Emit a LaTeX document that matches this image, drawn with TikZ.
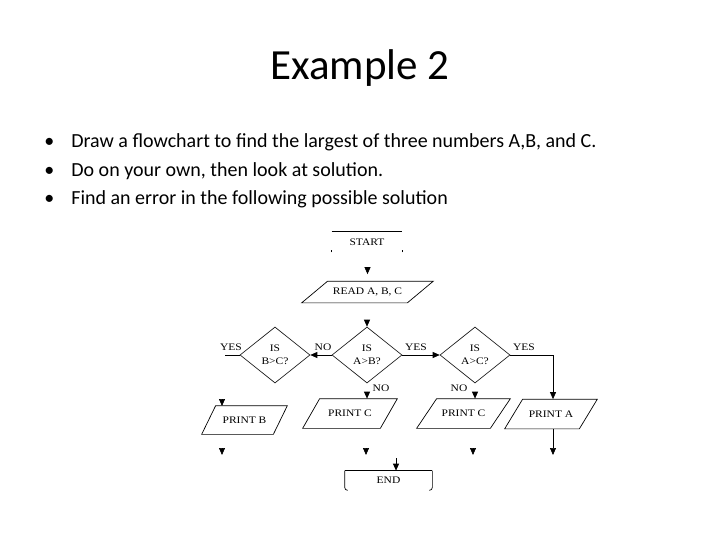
\documentclass[tikz,border=0pt]{standalone}
\usepackage{fontspec}
\setmainfont{Carlito}
\newfontfamily\chartfont[FakeStretch=1.15]{Liberation Serif}
\usetikzlibrary{arrows.meta,shapes.geometric,calc}

\begin{document}
\begin{tikzpicture}[
  x=1pt, y=-1pt,
  >={Triangle[width=6pt,length=7pt]},
  line width=0.7pt,
  every node/.style={inner sep=0pt},
  chart/.style={font=\chartfont\fontsize{10}{12.5}\selectfont, align=center},
  term/.style={chart, minimum width=70pt, minimum height=20pt},
  io/.style={chart, minimum width=73pt, minimum height=29pt},
  test/.style={chart, draw, diamond, minimum width=70pt, minimum height=56pt, line width=0.6pt},
  lbl/.style={chart},
  bulletline/.style={font=\fontsize{20}{24}\selectfont, anchor=base west}
]
\useasboundingbox (0,0) rectangle (720,540);

% Titre et consignes
\node[font=\fontsize{43}{50}\selectfont, anchor=base] (title) at (360,80) {Example 2};
\node[bulletline] (b1) at (44,148) {\textbullet};
\node[bulletline] (t1) at (71,148) {Draw a flowchart to find the largest of three numbers A,B, and C.};
\node[bulletline] (b2) at (44,176.5) {\textbullet};
\node[bulletline] (t2) at (71,176.5) {Do on your own, then look at solution.};
\node[bulletline] (b3) at (44,205) {\textbullet};
\node[bulletline] (t3) at (71,205) {Find an error in the following possible solution};

% Nodes (organigramme)
\node[term] (start) at (367,242) {START};
\node[io, minimum width=105pt, minimum height=21pt] (read) at (367.5,292) {READ A, B, C};
\node[test] (isbc) at (275,355) {IS\\B>C?};
\node[test] (isab) at (367,355) {IS\\A>B?};
\node[test] (isac) at (475,355) {IS\\A>C?};
\node[io, minimum width=71pt, minimum height=28pt] (printb) at (244.5,420) {PRINT B};
\node[io, minimum width=77pt] (printc) at (350,413.5) {PRINT C};
\node[io] (printcc) at (463.5,413.5) {PRINT C};
\node[io, minimum width=74pt] (printa) at (551,414) {PRINT A};
\node[term, minimum width=87pt, minimum height=19pt] (end) at (388.5,480.5) {END};

% Parallelogrammes entree / sortie
\foreach \n/\s in {read/13, printb/7, printc/8.5, printcc/10, printa/9}
  \draw ($(\n.south west)+(-\s,0)$) -- ($(\n.north west)+(\s,0)$)
     -- ($(\n.north east)+(\s,0)$) -- ($(\n.south east)+(-\s,0)$) -- cycle;

% Bords visibles des terminaux
\draw (start.north west) -- (start.north east);
\draw (start.south west) -- ++(0,-2);
\draw (start.south east) -- ++(0,-2);
\draw (end.north west) -- (end.north east);
\draw[rounded corners=3pt] (end.north west) -- (end.south west) -- ++(3,0);
\draw[rounded corners=3pt] (end.north east) -- (end.south east) -- ++(-3,0);

% Etiquettes
\node[lbl] (yes1) at (231,347) {YES};
\node[lbl] (no1) at (323,347) {NO};
\node[lbl] (yes2) at (416,347) {YES};
\node[lbl] (yes3) at (524,347) {YES};
\node[lbl] (no2) at (381,388) {NO};
\node[lbl] (no3) at (459,388) {NO};

% Fleches principales
\coordinate (yesb) at (225,355);
\coordinate (yesa) at (553,355);
\draw (isbc.west) -- (yesb);
\draw[->] (isab.west) -- (isbc.east);
\draw[->] (isab.east) -- (isac.west);
\draw[->] (isac.east) -- (yesa) -- (yesa |- printa.north);
\coordinate (outa) at (553,455);
\draw[->] (yesa |- printa.south) -- (outa);
\coordinate (endin) at (396,458);
\draw[->] (endin) -- (endin |- end.north);

% Pointes seules (traits perdus)
\coordinate (tipread) at ($(read.north)+(0,-7)$);
\coordinate (tipb) at (222,406);
\coordinate (tipc) at (isab.south |- printc.north);
\coordinate (tipcc) at (isac.south |- printcc.north);
\coordinate (outb) at (222,455);
\coordinate (outc) at (366,455);
\coordinate (outcc) at (473,455);
\foreach \t in {tipread,isab.north,tipb,tipc,tipcc,outb,outc,outcc}
  \draw[->] (\t) ++(0,-7) -- (\t);

\end{tikzpicture}
\end{document}
